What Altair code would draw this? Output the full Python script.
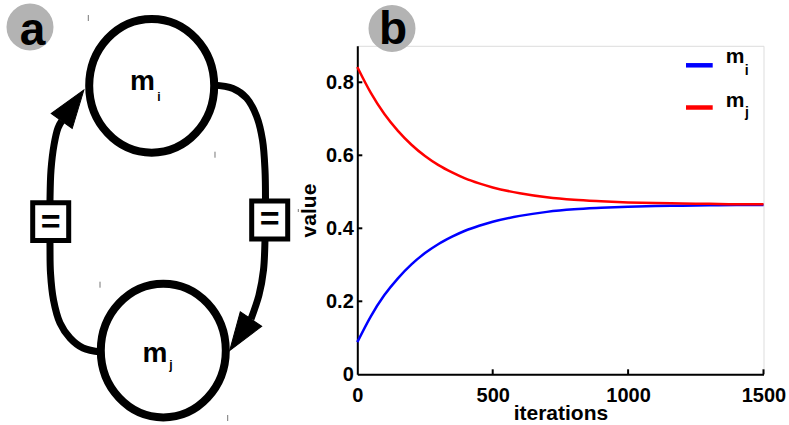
import altair as alt
import pandas as pd

FONT = "Liberation Sans"

# ---------------- panel b : data ----------------
iterations = [0, 50, 100, 150, 200, 250, 300, 350, 400, 450, 500, 600, 700,
              800, 900, 1000, 1100, 1200, 1300, 1400, 1500]
m_i_values = [0.088, 0.159, 0.217, 0.263, 0.301, 0.332, 0.357, 0.377, 0.394,
              0.407, 0.418, 0.434, 0.445, 0.452, 0.456, 0.459, 0.461, 0.462,
              0.463, 0.464, 0.464]
m_j_values = [0.842, 0.771, 0.713, 0.667, 0.629, 0.598, 0.573, 0.553, 0.536,
              0.523, 0.512, 0.496, 0.485, 0.478, 0.474, 0.471, 0.469, 0.468,
              0.467, 0.466, 0.466]
series_names = ["m_i", "m_j"]
series_colors = ["#0000ff", "#ff0000"]
x_label_values = [0, 500, 1000, 1500]
y_label_values = [0, 0.2, 0.4, 0.6, 0.8]
x_tick_values = [500, 1000, 1500]
y_tick_values = [0.2, 0.4, 0.6, 0.8]
x_domain = [0, 1500]
y_domain = [0, 0.9]

# ---------------- page layout (pixels) ----------------
L, T, W, H = 357.3, 45.8, 406.2, 328.5
PAD = {"left": L, "top": T, "right": 789 - L - W, "bottom": 425 - T - H}

# ---------------- panel a : diagram geometry (pixel space) ----------------
node_x = [151.7, 163.3]
node_y = [85.8, 350.5]
node_text = ["m", "m"]
node_text_x = [142.5, 155.0]
node_text_y = [90.0, 361.7]
node_sub = ["i", "j"]
node_sub_x = [158.8, 170.8]
node_sub_y = [101.0, 369.0]

edge_right_x = [213, 233, 246.5, 256.5, 262.5, 265, 265.5, 265, 263.5, 259, 251]
edge_right_y = [85, 88.5, 98, 116, 140, 170, 200, 240, 270, 295, 319]
edge_left_x = [101, 83, 70, 60, 53.5, 50.5, 50, 50, 51, 54, 58, 61.7]
edge_left_y = [352, 348, 338, 323, 300, 273, 245, 200, 170, 145, 128, 121]

arrow_x = [251.0, 61.7]
arrow_y = [319.0, 121.0]
arrow_angle = [214, 35.6]

box_x = [269.7, 50.7]
box_y = [220.0, 221.7]
box_text = ["=", "="]
box_text_y = [230.0, 232.5]

panel_x = [30.0, 392.0]
panel_y = [27.0, 28.5]
panel_text = ["a", "b"]
panel_text_x = [32.5, 393.0]
panel_text_y = [44.5, 44.0]

speck_x = [88.3, 215.0, 100.0, 227.7, 298.3]
speck_y1 = [15.0, 151.7, 281.7, 415.0, 209.0]
speck_y2 = [21.0, 157.7, 287.7, 421.0, 212.0]

legend_bar_x1 = [686.0, 686.0]
legend_bar_x2 = [712.7, 712.7]
legend_bar_y = [65.3, 107.5]
legend_text = ["m", "m"]
legend_text_x = [735.0, 735.0]
legend_text_y = [63.3, 106.7]
legend_sub = ["i", "j"]
legend_sub_x = [746.7, 747.0]
legend_sub_y = [75.0, 116.7]

# ---------------- tables ----------------
lines_df = pd.DataFrame({
    "iteration": iterations * 2,
    "value": m_i_values + m_j_values,
    "series": [series_names[0]] * len(iterations) + [series_names[1]] * len(iterations),
})
edges_df = pd.DataFrame({
    "x": edge_right_x + edge_left_x,
    "y": edge_right_y + edge_left_y,
    "edge": ["r"] * len(edge_right_x) + ["l"] * len(edge_left_x),
    "k": list(range(len(edge_right_x))) + list(range(len(edge_left_x))),
})
nodes_df = pd.DataFrame({"x": node_x, "y": node_y})
node_text_df = pd.DataFrame({"x": node_text_x, "y": node_text_y, "t": node_text})
node_sub_df = pd.DataFrame({"x": node_sub_x, "y": node_sub_y, "t": node_sub})
arrows_df = pd.DataFrame({"x": arrow_x, "y": arrow_y, "angle": arrow_angle})
boxes_df = pd.DataFrame({"x": box_x, "y": box_y})
box_text_df = pd.DataFrame({"x": box_x, "y": box_text_y, "t": box_text})
panel_df = pd.DataFrame({"x": panel_x, "y": panel_y})
panel_text_df = pd.DataFrame({"x": panel_text_x, "y": panel_text_y, "t": panel_text})
speck_df = pd.DataFrame({"x": speck_x, "y": speck_y1, "y2": speck_y2})
legend_bar_df = pd.DataFrame({"x": legend_bar_x1, "x2": legend_bar_x2,
                              "y": legend_bar_y, "series": series_names})
legend_text_df = pd.DataFrame({"x": legend_text_x, "y": legend_text_y, "t": legend_text})
legend_sub_df = pd.DataFrame({"x": legend_sub_x, "y": legend_sub_y, "t": legend_sub})

# ---------------- scales ----------------
def PXS():
    return alt.Scale(domain=[L, L + W], nice=False, zero=False)

def PYS():
    return alt.Scale(domain=[T, T + H], reverse=True, nice=False, zero=False)

def px(xf="x", yf="y"):
    return dict(x=alt.X(f"{xf}:Q", scale=PXS(), axis=None),
                y=alt.Y(f"{yf}:Q", scale=PYS(), axis=None))

def XS():
    return alt.Scale(domain=x_domain, nice=False, zero=False)

def YS():
    return alt.Scale(domain=y_domain, nice=False, zero=False)

color_scale = alt.Scale(domain=series_names, range=series_colors)

ELLIPSE = "M-1,0A1,1.07,0,1,0,1,0A1,1.07,0,1,0,-1,0Z"
ARROW = "M0,-1L0.34,0L-0.34,0Z"
BOX = "M-1,-1.05H1V1.05H-1Z"

# ---------------- panel a layers ----------------
edges = alt.Chart(edges_df).mark_line(
    interpolate="catmull-rom", strokeWidth=7, color="black"
).encode(**px(), detail="edge:N", order="k:Q")

nodes = alt.Chart(nodes_df).mark_point(
    shape=ELLIPSE, size=15625, filled=True, fill="white", stroke="black",
    strokeWidth=8, opacity=1
).encode(**px())

arrows = alt.Chart(arrows_df).mark_point(
    shape=ARROW, size=5776, filled=True, fill="black", stroke="black",
    strokeWidth=1, opacity=1
).encode(**px(), angle=alt.Angle("angle:Q", scale=None))

boxes = alt.Chart(boxes_df).mark_point(
    shape=BOX, size=1296, filled=True, fill="white", stroke="black",
    strokeWidth=5, opacity=1
).encode(**px())

box_txt = alt.Chart(box_text_df).mark_text(
    font=FONT, fontSize=34, fontWeight="bold", color="black",
    align="center", baseline="alphabetic"
).encode(**px(), text="t:N")

node_txt = alt.Chart(node_text_df).mark_text(
    font=FONT, fontSize=28, fontWeight="bold", color="black",
    align="center", baseline="alphabetic"
).encode(**px(), text="t:N")

node_sub_txt = alt.Chart(node_sub_df).mark_text(
    font=FONT, fontSize=12, fontWeight="bold", color="black",
    align="center", baseline="alphabetic"
).encode(**px(), text="t:N")

panel_circ = alt.Chart(panel_df).mark_point(
    shape="circle", size=2209, filled=True, color="#b3b3b3", opacity=1
).encode(**px())

panel_txt = alt.Chart(panel_text_df).mark_text(
    font=FONT, fontSize=46, fontWeight="bold", color="black",
    align="center", baseline="alphabetic"
).encode(**px(), text="t:N")

specks = alt.Chart(speck_df).mark_rule(color="#777777", strokeWidth=1).encode(
    **px(), y2="y2:Q"
)

# ---------------- panel b layers ----------------
x_axis = alt.Axis(
    title="iterations", values=x_label_values, format="d", grid=False,
    ticks=False, tickSize=0, labelPadding=11.5, labelFlush=False,
    labelOverlap=False, domainColor="black", domainWidth=2,
    labelFont=FONT, labelFontSize=20, labelFontWeight="bold", labelColor="black",
    titleFont=FONT, titleFontSize=21, titleFontWeight="bold", titleColor="black",
    titleX=W / 2, titleY=44.7, titleBaseline="alphabetic", titleAlign="center",
)
y_axis = alt.Axis(
    title="value", values=y_label_values, format="~g", grid=False,
    ticks=False, tickSize=0, labelPadding=4, labelFlush=False,
    labelOverlap=False, domainColor="black", domainWidth=2,
    labelFont=FONT, labelFontSize=20, labelFontWeight="bold", labelColor="black",
    titleFont=FONT, titleFontSize=21, titleFontWeight="bold", titleColor="black",
    titleX=-41.6, titleY=H / 2, titleBaseline="alphabetic", titleAlign="center",
    titleAngle=270,
)

lines = alt.Chart(lines_df).mark_line(strokeWidth=2.5, interpolate="monotone").encode(
    x=alt.X("iteration:Q", scale=XS(), axis=x_axis),
    y=alt.Y("value:Q", scale=YS(), axis=y_axis),
    color=alt.Color("series:N", scale=color_scale, legend=None),
)

y_ticks = alt.Chart(pd.DataFrame({"v": y_tick_values})).mark_rule(
    color="black", strokeWidth=2
).encode(y=alt.Y("v:Q", scale=YS(), axis=None), x=alt.value(0), x2=alt.value(5))

x_ticks = alt.Chart(pd.DataFrame({"v": x_tick_values})).mark_rule(
    color="black", strokeWidth=2
).encode(x=alt.X("v:Q", scale=XS(), axis=None), y=alt.value(H), y2=alt.value(H - 5))

legend_bars = alt.Chart(legend_bar_df).mark_rule(strokeWidth=4.5).encode(
    **px(), x2="x2:Q",
    color=alt.Color("series:N", scale=color_scale, legend=None),
)
legend_txt = alt.Chart(legend_text_df).mark_text(
    font=FONT, fontSize=21, fontWeight="bold", color="black",
    align="center", baseline="alphabetic"
).encode(**px(), text="t:N")
legend_sub_txt = alt.Chart(legend_sub_df).mark_text(
    font=FONT, fontSize=14, fontWeight="bold", color="black",
    align="center", baseline="alphabetic"
).encode(**px(), text="t:N")

chart = alt.layer(
    edges, boxes, box_txt, nodes, arrows, node_txt, node_sub_txt,
    specks, panel_circ, panel_txt,
    lines, y_ticks, x_ticks,
    legend_bars, legend_txt, legend_sub_txt,
).resolve_scale(
    x="independent", y="independent", color="independent"
).properties(
    width=W, height=H, padding=PAD,
    autosize=alt.AutoSizeParams(type="none"),
    background="white",
).configure_view(stroke=None).configure(font=FONT)

chart.save("out.html", embed_options={"renderer": "svg", "actions": False})
